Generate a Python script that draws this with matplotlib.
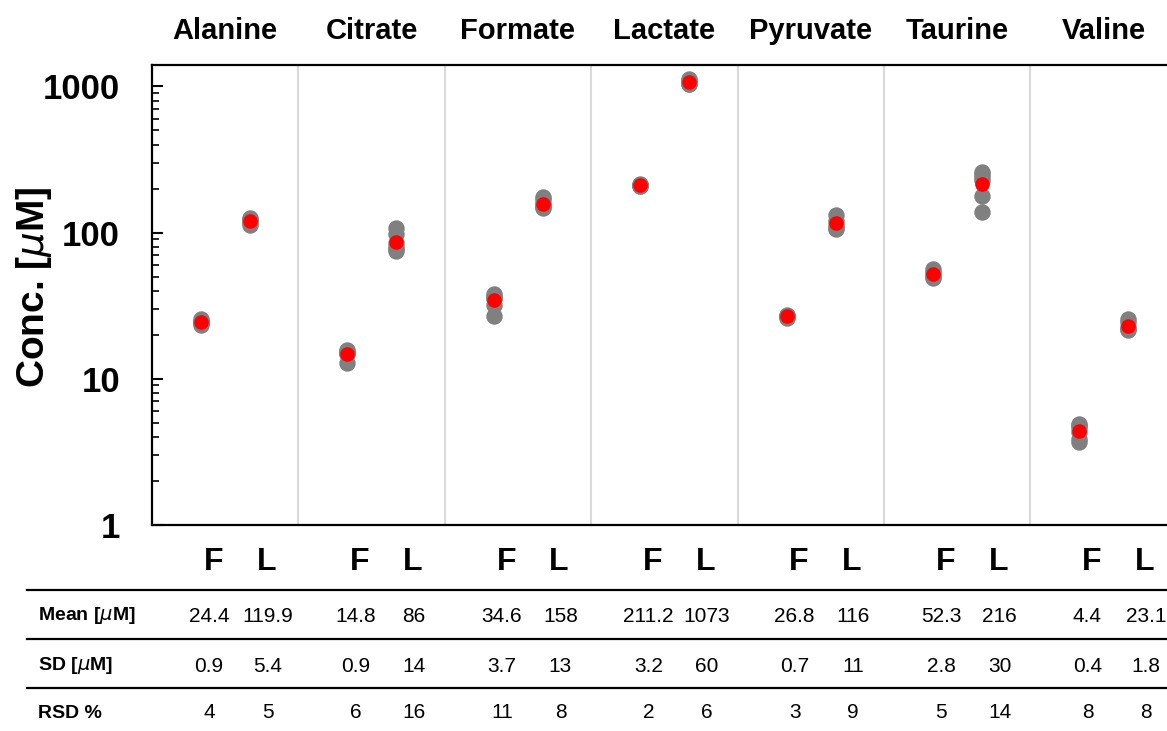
import numpy as np
import matplotlib
matplotlib.use("Agg")
import matplotlib.pyplot as plt
from matplotlib.lines import Line2D
from matplotlib.transforms import blended_transform_factory

plt.rcParams['font.family'] = ['Liberation Sans', 'DejaVu Sans']

metabolites = ["Alanine", "Citrate", "Formate", "Lactate", "Pyruvate", "Taurine", "Valine"]

reps_F = [
    [23.3, 24.0, 24.4, 25.0, 25.6, 24.1],
    [12.8, 14.8, 15.2, 15.5, 15.8, 14.9],
    [27.0, 32.0, 35.0, 36.0, 37.0, 38.0],
    [207, 209, 211, 213, 216],
    [26.0, 26.5, 27.0, 27.5, 26.8],
    [49, 50, 52, 54, 56],
    [3.7, 3.9, 4.3, 4.6, 4.9, 4.8],
]
reps_L = [
    [113, 117, 120, 123, 126],
    [75, 77, 80, 85, 98, 108],
    [148, 150, 155, 160, 170, 176],
    [1030, 1040, 1060, 1100, 1130],
    [105, 108, 112, 120, 132],
    [138, 177, 230, 250, 260, 240],
    [21.5, 22.0, 22.5, 24.5, 25.5],
]

# summary table
mean_F = ["24.4", "14.8", "34.6", "211.2", "26.8", "52.3", "4.4"]
mean_L = ["119.9", "86", "158", "1073", "116", "216", "23.1"]
sd_F = ["0.9", "0.9", "3.7", "3.2", "0.7", "2.8", "0.4"]
sd_L = ["5.4", "14", "13", "60", "11", "30", "1.8"]
rsd_F = ["4", "6", "11", "2", "3", "5", "8"]
rsd_L = ["5", "16", "8", "6", "9", "14", "8"]
row_labels = [r"Mean [$\mu$M]", r"SD [$\mu$M]", "RSD %"]

W, H = 1167, 731
fig = plt.figure(figsize=(W / 100, H / 100), dpi=100)
ax = fig.add_axes([152 / W, 1 - 525 / H, (W - 152) / W, (525 - 65) / H])

ax.set_yscale("log")
ax.set_ylim(1, 1400)
ax.set_xlim(0, (W - 152) / 146.4)

for i in range(1, len(metabolites)):
    ax.axvline(i, color="#d9d9d9", lw=1.5, zorder=0)

for i in range(len(metabolites)):
    xf, xl = i + 0.335, i + 0.67
    ax.scatter([xf] * len(reps_F[i]), reps_F[i], s=140, color="#808080", lw=0, zorder=2)
    ax.scatter([xl] * len(reps_L[i]), reps_L[i], s=140, color="#808080", lw=0, zorder=2)
    ax.scatter([xf, xl], [float(mean_F[i]), float(mean_L[i])], s=110, color="red", lw=0, zorder=3)
    ax.text(i + 0.5, 1.074, metabolites[i], transform=blended_transform_factory(ax.transData, ax.transAxes),
            ha="center", va="center", fontsize=21, fontweight="bold")

ax.set_yticks([1, 10, 100, 1000])
ax.set_yticklabels(["1", "10", "100", "1000"], fontsize=25, fontweight="bold")
ax.tick_params(axis="y", which="major", direction="in", length=8, width=1.5, pad=23)
ax.tick_params(axis="y", which="minor", direction="in", length=5, width=1.2)
ax.tick_params(axis="x", which="both", bottom=False, labelbottom=False)
ax.spines["right"].set_visible(False)
for s in ["left", "top", "bottom"]:
    ax.spines[s].set_linewidth(1.6)

fig.text(34 / W, 1 - 287 / H, r"Conc. [$\mu$M]", rotation=90, ha="center", va="center",
         fontsize=28, fontweight="bold")

# F / L labels and table below the axes
tr = blended_transform_factory(ax.transData, fig.transFigure)
for i in range(len(metabolites)):
    ax.text(i + 0.42, 1 - 562 / H, "F", transform=tr, ha="center", va="center",
            fontsize=23, fontweight="bold", clip_on=False)
    ax.text(i + 0.78, 1 - 562 / H, "L", transform=tr, ha="center", va="center",
            fontsize=23, fontweight="bold", clip_on=False)

for ly in [590, 639, 688]:
    fig.add_artist(Line2D([27 / W, 1.0], [1 - ly / H, 1 - ly / H], color="black", lw=1.6))

row_y = [616, 666, 713]
for r, (lab, vf, vl) in enumerate(zip(row_labels, [mean_F, sd_F, rsd_F], [mean_L, sd_L, rsd_L])):
    y = 1 - row_y[r] / H
    fig.text(38 / W, y, lab, ha="left", va="center", fontsize=14, fontweight="bold")
    for i in range(len(metabolites)):
        ax.text(i + 0.39, y, vf[i], transform=tr, ha="center", va="center", fontsize=15, clip_on=False)
        ax.text(i + 0.79, y, vl[i], transform=tr, ha="center", va="center", fontsize=15, clip_on=False)

fig.savefig("out.png", dpi=100)
